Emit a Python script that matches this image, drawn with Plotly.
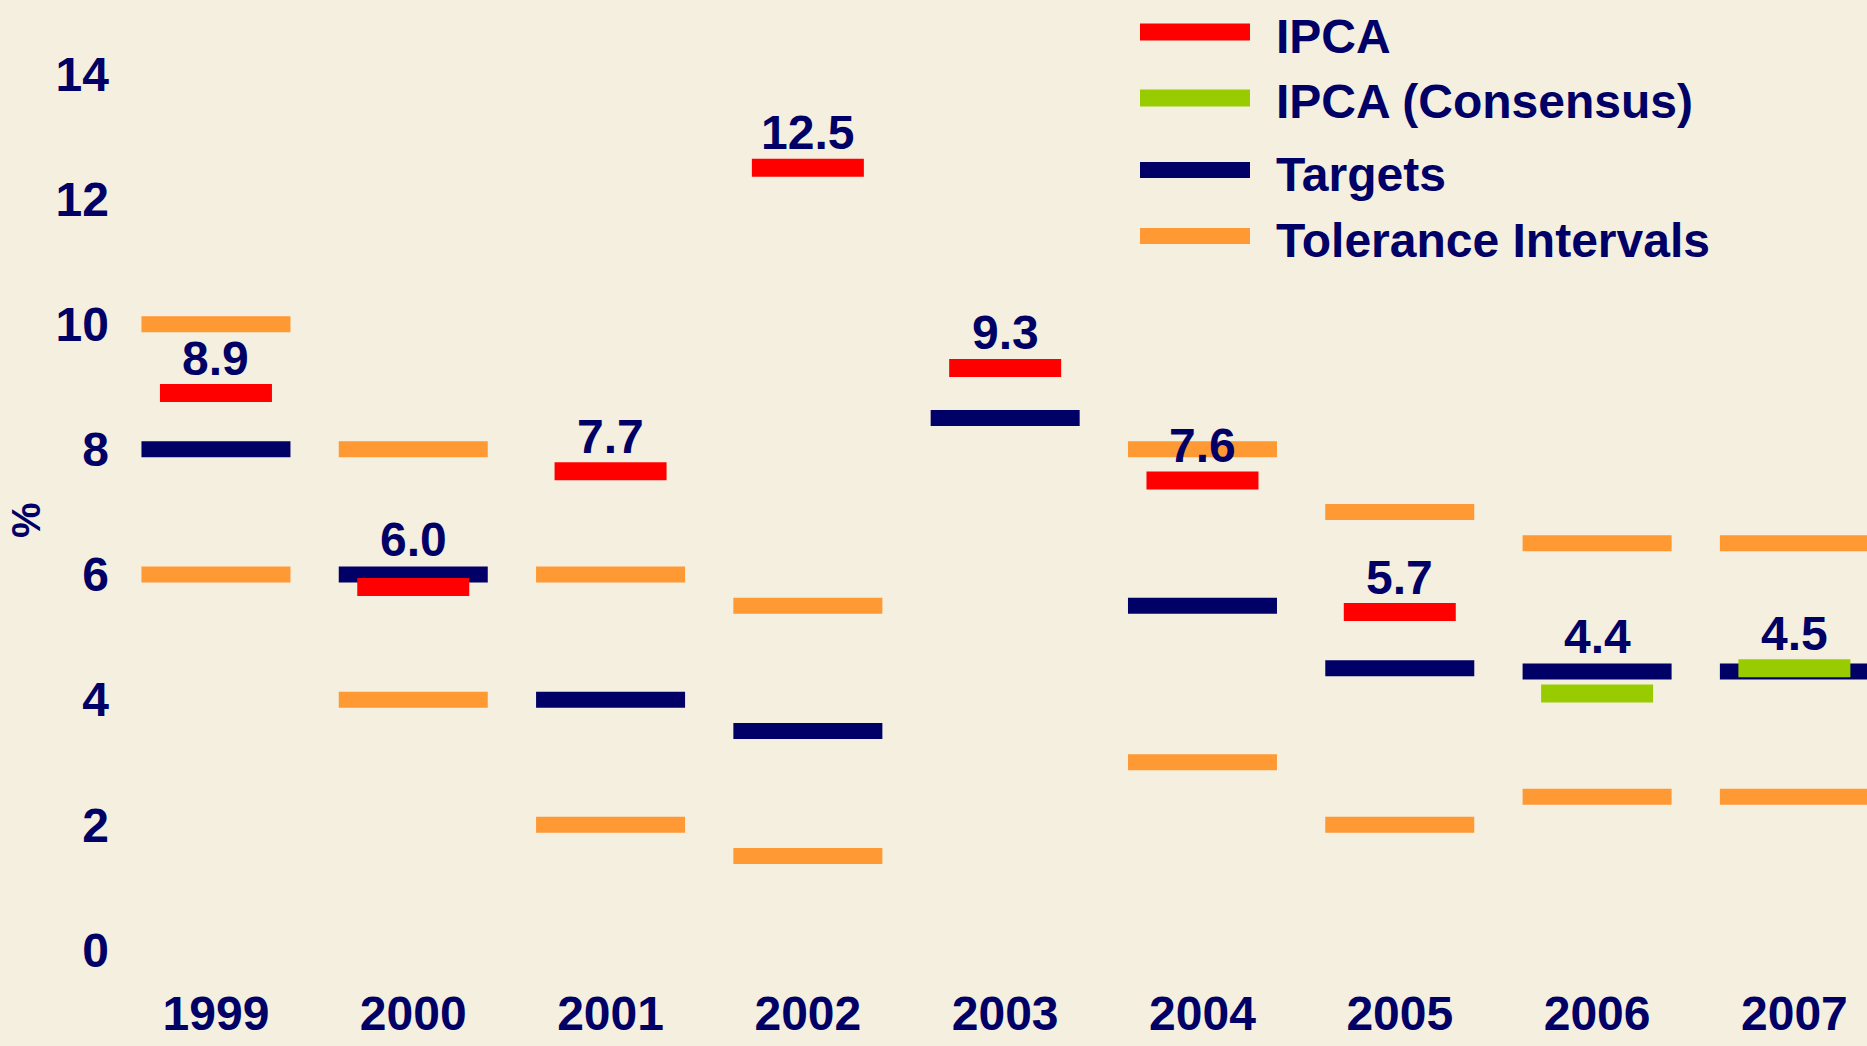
import plotly.graph_objects as go

# ---------------- data ----------------
years = ["1999", "2000", "2001", "2002", "2003", "2004", "2005", "2006", "2007"]
ipca = [8.9, 5.8, 7.65, 12.5, 9.3, 7.5, 5.4, None, None]
ipca_consensus = [None, None, None, None, None, None, None, 4.1, 4.5]
targets = [8.0, 6.0, 4.0, 3.5, 8.5, 5.5, 4.5, 4.45, 4.45]
tol_upper = [10.0, 8.0, 6.0, 5.5, None, 8.0, 7.0, 6.5, 6.5]
tol_lower = [6.0, 4.0, 2.0, 1.5, None, 3.0, 2.0, 2.45, 2.45]
value_labels = ["8.9", "6.0", "7.7", "12.5", "9.3", "7.6", "5.7", "4.4", "4.5"]
y_ticks = [0, 2, 4, 6, 8, 10, 12, 14]
legend_names = ["IPCA", "IPCA (Consensus)", "Targets", "Tolerance Intervals"]

# ---------------- style ----------------
W, H = 1867, 1046
ML, MR, MT, MB = 125, 0, 0, 71
NAVY = "#000066"
RED = "#FF0000"
GREEN = "#99CC00"
ORANGE = "#FF9933"
BG = "#F4EFDF"
FONT = "Liberation Sans, Arial, sans-serif"
FS = 48
LINE_EW = 1.4  # plotly's line-ew symbol spans 1.4 * marker size

def seg(y, color, width_px, thick):
    return go.Scatter(
        x=list(range(len(years))), y=y, mode="markers", showlegend=False,
        hoverinfo="skip", cliponaxis=True,
        marker=dict(symbol="line-ew", size=width_px / LINE_EW,
                    line=dict(width=thick, color=color), color=color),
    )

fig = go.Figure()
fig.add_trace(seg(tol_upper, ORANGE, 149, 16))
fig.add_trace(seg(tol_lower, ORANGE, 149, 16))
fig.add_trace(seg(targets, NAVY, 149, 16))
fig.add_trace(seg(ipca, RED, 112, 18))
fig.add_trace(seg(ipca_consensus, GREEN, 112, 18))

# value labels above the top mark of each year
for i in range(len(years)):
    vals = [v for v in (ipca[i], ipca_consensus[i], targets[i]) if v is not None]
    fig.add_annotation(x=i, y=max(vals), xref="x", yref="y", text=value_labels[i],
                       showarrow=False, yshift=35, xanchor="center", yanchor="middle",
                       font=dict(family=FONT, size=FS, color=NAVY, weight="bold"))

# custom legend (positions in pixels -> paper)
PW = W - ML - MR
PH = H - MT - MB
def px(x):
    return (x - ML) / PW
def py(y):
    return 1 - (y - MT) / PH

leg_colors = [RED, GREEN, NAVY, ORANGE]
leg_thick = [17, 17, 16, 16]
leg_rows = [32, 98, 170, 236]
for name, c, t, ry in zip(legend_names, leg_colors, leg_thick, leg_rows):
    fig.add_shape(type="line", xref="paper", yref="paper",
                  x0=px(1140), x1=px(1250), y0=py(ry), y1=py(ry),
                  line=dict(color=c, width=t))
    fig.add_annotation(xref="paper", yref="paper", x=px(1274), y=py(ry + 4),
                       xanchor="left", yanchor="middle", text=name, showarrow=False,
                       font=dict(family=FONT, size=FS, color=NAVY, weight="bold"))

# "%" axis title
fig.add_annotation(xref="paper", yref="paper", x=px(26), y=py(520), text="%",
                   textangle=-90, showarrow=False, xanchor="center", yanchor="middle",
                   font=dict(family=FONT, size=40, color=NAVY, weight="bold"))

fig.update_layout(
    width=W, height=H,
    margin=dict(l=ML, r=MR, t=MT, b=MB, pad=0),
    paper_bgcolor=BG, plot_bgcolor=BG,
    showlegend=False,
    font=dict(family=FONT, size=FS, color=NAVY, weight="bold"),
)
fig.update_xaxes(range=[-0.461, 8.368], tickvals=list(range(len(years))), ticktext=years,
                 showgrid=False, zeroline=False, automargin=False,
                 showline=False, ticks="", ticklabelstandoff=6,
                 tickfont=dict(family=FONT, size=FS, color=NAVY, weight="bold"))
fig.update_yaxes(range=[-0.40, 15.18], tickvals=y_ticks, showgrid=False, zeroline=False,
                 showline=False, ticks="", ticklabelstandoff=15, automargin=False,
                 tickfont=dict(family=FONT, size=FS, color=NAVY, weight="bold"))

fig.write_html(
    "out.html",
    config={"displayModeBar": False},
    post_script="document.body.style.margin='0';document.body.style.background='" + BG + "';",
)
